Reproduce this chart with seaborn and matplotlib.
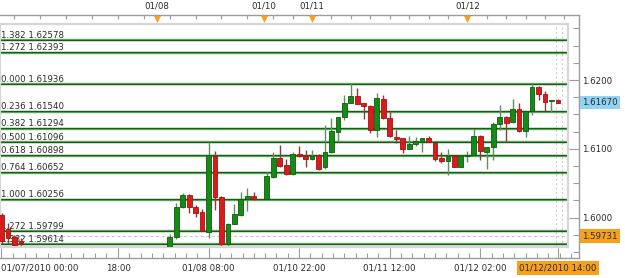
import matplotlib
matplotlib.use("Agg")
import matplotlib.pyplot as plt
import matplotlib.transforms as mtransforms
import numpy as np
import seaborn as sns

# ---------------- data ----------------
candle_idx = [0, 1, 2, 3,
              26, 27, 28, 29, 30, 31, 32, 33, 34, 35, 36, 37, 38, 39,
              41, 42, 43, 44, 45, 46, 47, 48, 49, 50, 51, 52, 53, 54, 55, 56, 57, 58, 59, 60,
              61, 62, 63, 64, 65, 66, 67, 68, 69, 70, 71, 72, 73, 74, 75, 76, 77, 78, 79, 80,
              81, 82, 83, 84, 85, 86]
opens = [1.6004, 1.5983, 1.5972, 1.5966,
         1.5957, 1.5972, 1.6015, 1.6033, 1.6015, 1.6008, 1.5979, 1.6090, 1.6030, 1.5962, 1.5991, 1.6004, 1.6027, 1.6031,
         1.6027, 1.6059, 1.6087, 1.6076, 1.6063, 1.6092, 1.6090, 1.6085, 1.6091, 1.6073, 1.6095, 1.6124, 1.6146, 1.6166,
         1.6177, 1.6167, 1.6162, 1.6127, 1.6172, 1.6145,
         1.6117, 1.6116, 1.6100, 1.6107, 1.6110, 1.6116, 1.6108, 1.6087, 1.6082, 1.6090, 1.6074, 1.6089, 1.6091, 1.6119,
         1.6096, 1.6103, 1.6136, 1.6146, 1.6139, 1.6158,
         1.6126, 1.6155, 1.6190, 1.6180, 1.6170, 1.6171]
highs = [1.6006, 1.5992, 1.5975, 1.5970,
         1.5976, 1.6021, 1.6036, 1.6034, 1.6018, 1.6012, 1.6110, 1.6097, 1.6031, 1.5992, 1.6020, 1.6037, 1.6043, 1.6037,
         1.6066, 1.6095, 1.6106, 1.6085, 1.6095, 1.6104, 1.6098, 1.6098, 1.6092, 1.6135, 1.6145, 1.6146, 1.6178, 1.6196,
         1.6188, 1.6167, 1.6163, 1.6181, 1.6178, 1.6153,
         1.6127, 1.6116, 1.6119, 1.6117, 1.6116, 1.6119, 1.6109, 1.6095, 1.6100, 1.6091, 1.6091, 1.6097, 1.6129, 1.6120,
         1.6103, 1.6139, 1.6164, 1.6147, 1.6172, 1.6167,
         1.6155, 1.6196, 1.6191, 1.6184, 1.6171, 1.6172]
lows = [1.5962, 1.5963, 1.5953, 1.5957,
        1.5953, 1.5969, 1.6014, 1.6007, 1.6001, 1.5980, 1.5970, 1.6011, 1.5957, 1.5957, 1.5990, 1.6003, 1.6010, 1.6026,
        1.6026, 1.6058, 1.6074, 1.6062, 1.6062, 1.6088, 1.6074, 1.6084, 1.6069, 1.6071, 1.6094, 1.6111, 1.6142, 1.6166,
        1.6165, 1.6143, 1.6123, 1.6117, 1.6144, 1.6117,
        1.6108, 1.6094, 1.6099, 1.6104, 1.6095, 1.6110, 1.6082, 1.6079, 1.6062, 1.6073, 1.6073, 1.6081, 1.6090, 1.6084,
        1.6071, 1.6084, 1.6127, 1.6110, 1.6138, 1.6125,
        1.6117, 1.6149, 1.6171, 1.6155, 1.6154, 1.6166]
closes = [1.5966, 1.5971, 1.5960, 1.5963,
          1.5972, 1.6015, 1.6033, 1.6015, 1.6007, 1.5981, 1.6091, 1.6030, 1.5962, 1.5991, 1.6005, 1.6027, 1.6031, 1.6027,
          1.6060, 1.6087, 1.6075, 1.6063, 1.6092, 1.6090, 1.6085, 1.6090, 1.6071, 1.6095, 1.6126, 1.6146, 1.6167, 1.6177,
          1.6165, 1.6162, 1.6127, 1.6174, 1.6145, 1.6118,
          1.6114, 1.6100, 1.6107, 1.6111, 1.6116, 1.6110, 1.6085, 1.6082, 1.6090, 1.6074, 1.6090, 1.6091, 1.6119, 1.6097,
          1.6103, 1.6136, 1.6146, 1.6138, 1.6158, 1.6126,
          1.6155, 1.6190, 1.6180, 1.6168, 1.6171, 1.6167]

fib_ratios = ["1.382", "1.272", "0.000", "0.236", "0.382", "0.500",
              "0.618", "0.764", "1.000", "1.272", "1.382"]
fib_levels = [1.62578, 1.62393, 1.61936, 1.61540, 1.61294, 1.61096,
              1.60898, 1.60652, 1.60256, 1.59799, 1.59614]

bottom_tick_idx = [0, 18, 32, 46, 60, 74, 86]
bottom_tick_labels = ["01/07/2010 00:00", "18:00", "01/08 08:00", "01/10 22:00",
                      "01/11 12:00", "01/12 02:00", "01/12/2010 14:00"]
day_marker_idx = [24, 40.6, 48, 72]
day_marker_labels = ["01/08", "01/10", "01/11", "01/12"]
price_ticks = [1.6000, 1.6100, 1.6200]
last_price = 1.61670
ref_price = 1.59731
cursor_idx = [85.7, 86.6]

# ---------------- style ----------------
sns.set_style("white")
plt.rcParams["font.family"] = ["DejaVu Sans"]

GREEN, GREEN_EDGE, GREEN_WICK = "#168a16", "#0b5e0b", "#5f8f5f"
RED, RED_EDGE, RED_WICK = "#d81c1c", "#a51212", "#8c3c3c"
FRAME = "#9c9c9c"
TXT = "#2a2a2a"
FS = 6.2

W, H = 625, 278
fig = plt.figure(figsize=(W / 100, H / 100), dpi=100)
fig.patch.set_facecolor("white")

X0_PX, PX_PER_IDX = 1.5, 6.47
REF_P, REF_Y, PX_PER_UNIT = 1.62, 80.0, 6880.0


def frac_box(l, t, r, b):
    return [l / W, 1 - b / H, (r - l) / W, (b - t) / H]


def xl(l, r):
    return ((l - X0_PX) / PX_PER_IDX, (r - X0_PX) / PX_PER_IDX)


def yl(t, b):
    return (REF_P - (b - REF_Y) / PX_PER_UNIT, REF_P + (REF_Y - t) / PX_PER_UNIT)


OUT = (0, 15, 579, 258)
IN = (0, 24, 568, 247)

# ---- outer frame with axes ----
ax_out = fig.add_axes(frac_box(*OUT))
ax_out.set_facecolor("white")
ax_out.set_xlim(*xl(OUT[0], OUT[2]))
ax_out.set_ylim(*yl(OUT[1], OUT[3]))
for s in ["top", "right", "bottom"]:
    ax_out.spines[s].set_color(FRAME)
    ax_out.spines[s].set_linewidth(1.0)
ax_out.spines["left"].set_visible(False)

ax_out.set_xticks(bottom_tick_idx)
ax_out.set_xticklabels(bottom_tick_labels)
minor_x = np.concatenate([np.linspace(0, 18, 11), np.arange(18, 89.2, 1.75)])
ax_out.set_xticks(minor_x, minor=True)
ax_out.tick_params(axis="x", which="major", direction="in", length=7.2, width=0.8,
                   color=FRAME, labelsize=FS, labelcolor=TXT, pad=4.0, top=False)
ax_out.tick_params(axis="x", which="minor", direction="in", length=3.6, width=0.8,
                   color=FRAME, top=False)
xlabels = ax_out.get_xticklabels()
xlabels[0].set_ha("left")
xlabels[-1].set_bbox(dict(boxstyle="square,pad=0.25", fc="#f5a11c", ec="none"))

ax_out.yaxis.tick_right()
ax_out.set_yticks(price_ticks)
ax_out.set_yticklabels([f"{v:.4f}" for v in price_ticks])
ax_out.set_yticks(np.arange(1.5950, 1.6290, 0.0025), minor=True)
ax_out.tick_params(axis="y", which="major", direction="in", length=7.2, width=0.8,
                   color=FRAME, labelsize=FS, labelcolor=TXT, pad=2.2, left=False)
ax_out.tick_params(axis="y", which="minor", direction="in", length=4.3, width=0.8,
                   color=FRAME, left=False)

ytr = ax_out.get_yaxis_transform()
ax_out.annotate(f"{last_price:.5f}", xy=(1, last_price), xycoords=ytr,
                xytext=(3.5, 0), textcoords="offset pixels", ha="left", va="center",
                fontsize=FS, color=TXT, annotation_clip=False,
                bbox=dict(boxstyle="square,pad=0.25", fc="#92d2f3", ec="none"))
ax_out.annotate(f"{ref_price:.5f}", xy=(1, ref_price), xycoords=ytr,
                xytext=(3.5, 0), textcoords="offset pixels", ha="left", va="center",
                fontsize=FS, color=TXT, annotation_clip=False,
                bbox=dict(boxstyle="square,pad=0.25", fc="#f5a11c", ec="none"))

# ---- top date axis ----
ax_top = ax_out.twiny()
ax_top.set_xlim(ax_out.get_xlim())
for s in ax_top.spines.values():
    s.set_visible(False)
ax_top.set_xticks(day_marker_idx)
ax_top.set_xticklabels(day_marker_labels)
top_minor = np.concatenate([np.arange(2, 43, 4), np.arange(45, 89, 3)])
ax_top.set_xticks(top_minor, minor=True)
ax_top.tick_params(axis="x", which="major", length=0, labelsize=FS, labelcolor=TXT, pad=3.0)
ax_top.tick_params(axis="x", which="minor", direction="in", length=3.0, width=0.8, color=FRAME)
ax_top.scatter(day_marker_idx, [1 - 3.8 / (OUT[3] - OUT[1])] * len(day_marker_idx),
               marker="v", s=26, color="#f2a124", linewidths=0,
               transform=ax_top.get_xaxis_transform(), clip_on=False, zorder=5)

# ---- inner plot ----
ax = fig.add_axes(frac_box(*IN))
ax.set_facecolor("white")
for s in ax.spines.values():
    s.set_color("#d6d6d6")
    s.set_linewidth(1.6)
ax.set_xticks([])
ax.set_yticks([])

yt = ax.get_yaxis_transform()
up_shift = mtransforms.ScaledTranslation(0, 0.6 / 100, fig.dpi_scale_trans)
for r, lvl in zip(fib_ratios, fib_levels):
    ax.plot([0, 1], [lvl, lvl], transform=yt, color="#62ad62", lw=1.7, zorder=1.5,
            solid_capstyle="butt")
    ax.plot([0, 1], [lvl, lvl], transform=yt + up_shift, color="#1c5a1c", lw=0.9,
            zorder=1.6, solid_capstyle="butt")
    ax.annotate(f"{r} {lvl:.5f}", xy=(0, lvl), xycoords=yt, xytext=(1, 2.6),
                textcoords="offset pixels", ha="left", va="baseline",
                fontsize=FS, color=TXT, zorder=1.8)

ax.axhline(ref_price, color="#c9c9c9", lw=0.8, ls=(0, (3, 2)), zorder=1.2)
for cx in cursor_idx:
    ax.axvline(cx, color="#d0d0d0", lw=0.8, ls=(0, (2, 2)), zorder=1.2)

idx = np.array(candle_idx)
o = np.array(opens)
c = np.array(closes)
hi_p = np.array(highs)
lo_p = np.array(lows)
up = c >= o

ax.vlines(idx, lo_p, hi_p, colors=np.where(up, GREEN_WICK, RED_WICK), lw=1.0, zorder=2.5)

body_lo = np.minimum(o, c)
body_hi = np.maximum(o, c)
for mask, face, edge in [(up, GREEN, GREEN_EDGE), (~up, RED, RED_EDGE)]:
    sns.barplot(x=idx[mask], y=(body_hi - body_lo)[mask], bottom=body_lo[mask],
                native_scale=True, width=0.74, color=face, saturation=1,
                edgecolor=edge, linewidth=0.6, errorbar=None, ax=ax, zorder=3)

ax.set_xlabel("")
ax.set_ylabel("")
ax.set_xticks([])
ax.set_yticks([])
ax.set_xlim(*xl(IN[0], IN[2]))
ax.set_ylim(*yl(IN[1], IN[3]))

fig.savefig("out.png", dpi=100, facecolor="white")
